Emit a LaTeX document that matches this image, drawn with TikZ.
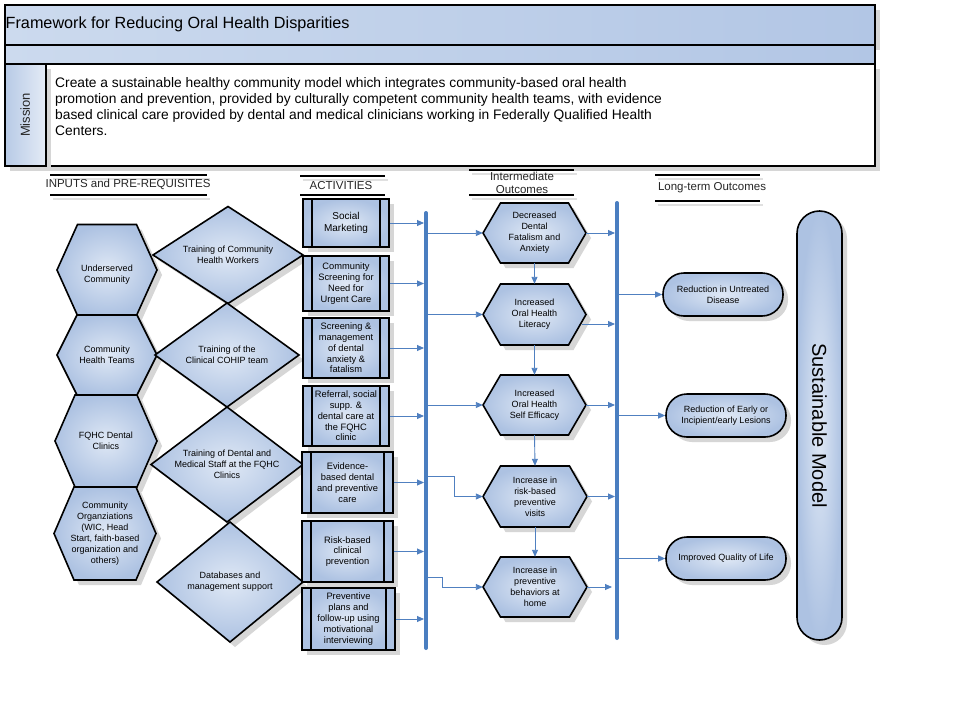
\documentclass[tikz,border=0pt]{standalone}
\usepackage{fontspec}
\setmainfont{Liberation Sans}
\usepackage{graphicx}
\usetikzlibrary{arrows.meta,shadows}
\definecolor{lb}{HTML}{DFE8F5}
\definecolor{db}{HTML}{ADC2E2}
\definecolor{arrblue}{HTML}{5080C0}
\definecolor{barblue}{HTML}{4A7EC0}
\definecolor{hdl}{HTML}{CCDAEE}
\definecolor{hdr}{HTML}{B2C6E5}
\definecolor{mll}{HTML}{B7CAE6}
\definecolor{mlr}{HTML}{E4EBF6}
\tikzset{
  fillshade/.style={inner color=lb, outer color=db},
  shad/.style={drop shadow={shadow xshift=5pt, shadow yshift=-5pt, fill=black!16, opacity=1}},
  outline/.style={draw=black, line width=1.6pt, line join=miter},
  lbl/.style={font=\fontsize{9}{11}\selectfont, align=center, inner sep=0pt},
  actlbl/.style={font=\fontsize{9.3}{10.8}\selectfont, align=center, inner sep=0pt},
  hdrlbl/.style={font=\fontsize{11.5}{13}\selectfont, align=center, inner sep=0pt, text=black!85},
  hline/.style={draw=black, line width=2pt},
  hshade/.style={draw=black!12, line width=1.5pt},
  arr/.style={draw=arrblue, line width=0.9pt, -{Triangle[length=7pt,width=6pt]}},
  bar/.style={draw=barblue, line width=4pt, line cap=round},
  actbox/.style={fillshade, outline, shad, actlbl},
  pill/.style={fillshade, outline, shad, lbl, rounded corners=21pt, minimum width=120pt, minimum height=43pt},
}
% [text opts] name cx cy w h inset text
\newcommand{\hexnode}[8][]{%
  \path[fillshade, outline, shad] ({#3-#5/2},#4) -- ({#3-#5/2+#7},{#4-#6/2}) -- ({#3+#5/2-#7},{#4-#6/2}) -- ({#3+#5/2},#4) -- ({#3+#5/2-#7},{#4+#6/2}) -- ({#3-#5/2+#7},{#4+#6/2}) -- cycle;
  \node[lbl, minimum width=#5pt, minimum height=#6pt, #1] (#2) at (#3,#4) {#8};
}
% name cx cy w h text
\newcommand{\dianode}[6]{%
  \path[fillshade, outline, shad] ({#2-#4/2},#3) -- (#2,{#3-#5/2}) -- ({#2+#4/2},#3) -- (#2,{#3+#5/2}) -- cycle;
  \node[lbl, minimum width=#4pt, minimum height=#5pt] (#1) at (#2,#3) {#6};
}
% [opts] name cx cy w h text
\newcommand{\actnode}[7][]{%
  \node[actbox, #1, minimum width=#5pt, minimum height=#6pt] (#2) at (#3,#4) {#7};
  \draw[outline] ([xshift=10pt]#2.north west) -- ([xshift=10pt]#2.south west);
  \draw[outline] ([xshift=-10pt]#2.north east) -- ([xshift=-10pt]#2.south east);
}
\begin{document}
\begin{tikzpicture}[x=1pt,y=-1pt]
\useasboundingbox (0,0) rectangle (960,720);
\fill[white] (0,0) rectangle (960,720);

% ---------- header ----------
\node[outline, shad, left color=hdl, right color=hdr, minimum width=870pt, minimum height=40pt, anchor=north west, inner sep=0pt] (title) at (4,4) {};
\node[anchor=west, font=\fontsize{16.2}{19}\selectfont, inner sep=0pt] (titletext) at ([xshift=1.5pt]title.west) {Framework for Reducing Oral Health Disparities};
\node[outline, left color=hdl, right color=hdr, minimum width=870pt, minimum height=19pt, anchor=north west, inner sep=0pt] (band) at (4,44) {};
\node[outline, shad, fill=white, minimum width=829pt, minimum height=102pt, anchor=north west, inner sep=0pt] (mbox) at (45,63) {};
\node[outline, shad, left color=mll, right color=mlr, minimum width=41pt, minimum height=102pt, anchor=north west, inner sep=0pt, font=\fontsize{13}{15}\selectfont, text=black!85] (mlab) at (4,63) {\rotatebox{90}{Mission}};
\node[anchor=north west, align=left, inner sep=0pt, font=\fontsize{13.8}{16}\selectfont] (mtext) at (55,77.5) {Create a sustainable healthy community model which integrates community-based oral health\\promotion and prevention, provided by culturally competent community health teams, with evidence\\based clinical care provided by dental and medical clinicians working in Federally Qualified Health\\Centers.};

% ---------- column headings ----------
\foreach \xa/\xb/\ya in {50/207/175, 50/207/195, 300/385/176, 300/385/195, 469/574/170, 469/574/195, 655/760/175, 655/760/201} {
  \draw[hshade] (\xa+3,\ya+4) -- (\xb+3,\ya+4);
  \draw[hline] (\xa,\ya) -- (\xb,\ya);
}
\node[hdrlbl] (hin) at (128,184.5) {INPUTS and PRE-REQUISITES};
\node[hdrlbl] (hact) at (341,186) {ACTIVITIES};
\node[hdrlbl] (hint) at (522,182.5) {Intermediate\\Outcomes};
\node[hdrlbl] (hlt) at (712,188) {Long-term Outcomes};

% ---------- inputs ----------
\hexnode[yshift=-5pt]{h1}{107}{270}{100}{91}{20.5}{Underserved\\Community}
\hexnode{h2}{107}{355}{100}{80}{20}{Community\\Health Teams}
\hexnode{h3}{106}{441}{102}{92}{20}{FQHC Dental\\Clinics}
\hexnode{h4}{105}{533.5}{102}{93}{20}{Community\\Organziations\\(WIC, Head\\Start, faith-based\\organization and\\others)}

\dianode{d1}{228}{255}{150}{97}{Training of Community\\Health Workers}
\dianode{d2}{227}{355}{144}{104}{Training of the\\Clinical COHIP team}
\dianode{d3}{227}{464.5}{152}{115}{Training of Dental and\\Medical Staff at the FQHC\\Clinics}
\dianode{d4}{230}{582}{146}{120}{Databases and\\management support}

% ---------- activities ----------
\actnode[font=\fontsize{10}{12}\selectfont]{a1}{346}{223}{86}{48}{Social\\Marketing}
\actnode{a2}{346}{283.5}{86}{55}{Community\\Screening for\\Need for\\Urgent Care}
\actnode{a3}{346}{348}{86}{60}{Screening \&\\management\\of dental\\anxiety \&\\fatalism}
\actnode{a4}{346}{416}{86}{60}{Referral, social\\supp. \&\\dental care at\\the FQHC\\clinic}
\actnode{a5}{347.5}{482.5}{91}{61}{Evidence-\\based dental\\and preventive\\care}
\actnode{a6}{347.5}{551.5}{91}{61}{Risk-based\\clinical\\prevention}
\actnode{a7}{348.5}{619}{93}{62}{Preventive\\plans and\\follow-up using\\motivational\\interviewing}

% ---------- bars ----------
\coordinate (b1t) at (426,213);
\coordinate (b1b) at (426,648);
\coordinate (b2t) at (617,203);
\coordinate (b2b) at (617,638);
\draw[bar] (b1t) -- (b1b);
\draw[bar] (b2t) -- (b2b);

\foreach \n in {a1,a2,a3,a4,a5,a6,a7}
  \draw[arr, shorten >=2pt] (\n.east) -- (\n.east -| b1t);

% ---------- intermediate outcomes ----------
\hexnode{i1}{534.5}{233}{103}{60}{17.5}{Decreased\\Dental\\Fatalism and\\Anxiety}
\hexnode{i2}{534.5}{314.5}{103}{61}{17.5}{Increased\\Oral Health\\Literacy}
\hexnode{i3}{534.5}{405}{103}{60}{17.5}{Increased\\Oral Health\\Self Efficacy}
\hexnode{i4}{535}{496.5}{104}{61}{17.5}{Increase in\\risk-based\\preventive\\visits}
\hexnode{i5}{535}{587}{104}{60}{17.5}{Increase in\\preventive\\behaviors at\\home}

\foreach \n in {i1,i2,i3}
  \draw[arr, shorten <=2pt] (\n.west -| b1t) -- (\n.west);
\path ([yshift=20pt]i4.west) coordinate (i4a);
\draw[arr, shorten <=2pt] (i4a -| b1t) -- ++(28,0) |- (i4.west);
\path ([yshift=10pt]i5.west) coordinate (i5a);
\draw[arr, shorten <=2pt] (i5a -| b1t) -- ++(16,0) |- (i5.west);

\draw[arr] (i1.south) -- (i2.north);
\draw[arr] (i2.south) -- (i3.north);
\draw[arr] (i3.south) -- (i4.north);
\draw[arr] (i4.south) -- (i5.north);

\draw[arr, shorten >=2pt] (i1.east) -- (i1.east -| b2t);
\path ([xshift=-4pt,yshift=-9.5pt]i2.east) coordinate (i2o);
\draw[arr, shorten >=2pt] (i2o) -- (i2o -| b2t);
\draw[arr, shorten >=2pt] (i3.east) -- (i3.east -| b2t);
\draw[arr, shorten >=2pt] (i4.east) -- (i4.east -| b2t);
\draw[arr, shorten >=5pt] (i5.east) -- (i5.east -| b2t);

% ---------- long-term outcomes ----------
\node[pill] (l1) at (723,294.5) {Reduction in Untreated\\Disease};
\node[pill] (l2) at (726,415.5) {Reduction of Early or\\Incipient/early Lesions};
\node[pill] (l3) at (726,558.5) {Improved Quality of Life};
\foreach \n in {l1,l2,l3}
  \draw[arr, shorten <=2pt] (\n.west -| b2t) -- (\n.west);

\node[fillshade, outline, shad, rounded corners=22.5pt, minimum width=45pt, minimum height=429pt, inner sep=0pt, font=\fontsize{20}{24}\selectfont] (sm) at (819.5,425.5) {\rotatebox{-90}{Sustainable Model}};
\end{tikzpicture}
\end{document}
